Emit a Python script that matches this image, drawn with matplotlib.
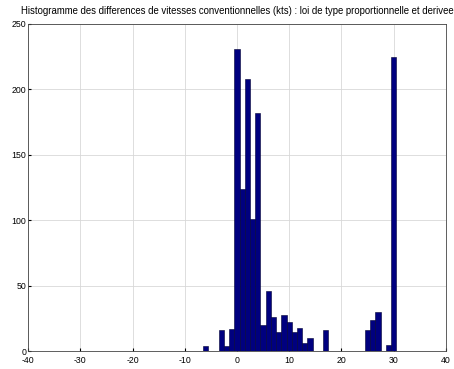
import matplotlib
matplotlib.use("Agg")
import matplotlib.pyplot as plt

plt.rcParams['font.family'] = ['Liberation Sans', 'DejaVu Sans']
plt.rcParams['axes.unicode_minus'] = False

title = "Histogramme des differences de vitesses conventionnelles (kts) : loi de type proportionnelle et derivee"
bin_centers = [-6, -3, -2, -1, 0, 1, 2, 3, 4, 5, 6, 7, 8, 9, 10, 11, 12, 13, 14, 17, 25, 26, 27, 29, 30]
counts = [4, 16, 4, 17, 231, 124, 208, 101, 182, 20, 46, 26, 15, 28, 22, 15, 18, 6, 10, 16, 16, 24, 30, 5, 225]
xticks = [-40, -30, -20, -10, 0, 10, 20, 30, 40]
yticks = [0, 50, 100, 150, 200, 250]

fig = plt.figure(figsize=(4.54, 3.69), dpi=100)
ax = fig.add_axes([0.062, 0.048, 0.920, 0.887])
ax.bar(bin_centers, counts, width=1.0, color='#00007f', edgecolor='#000033', linewidth=0.4, zorder=3)
ax.set_xlim(-40, 40)
ax.set_ylim(0, 250)
ax.set_xticks(xticks)
ax.set_yticks(yticks)
ax.grid(True, color='#d8d8d8', linewidth=0.6, zorder=0)
ax.tick_params(labelsize=6.3, length=2, direction='in', pad=1.5)
ax.tick_params(axis='x', pad=3.5)
for s in ax.spines.values():
    s.set_linewidth(0.6)
    s.set_color('#444444')
ax.set_title(title, fontsize=6.95, pad=7.5)
fig.savefig('out.png', dpi=100)
